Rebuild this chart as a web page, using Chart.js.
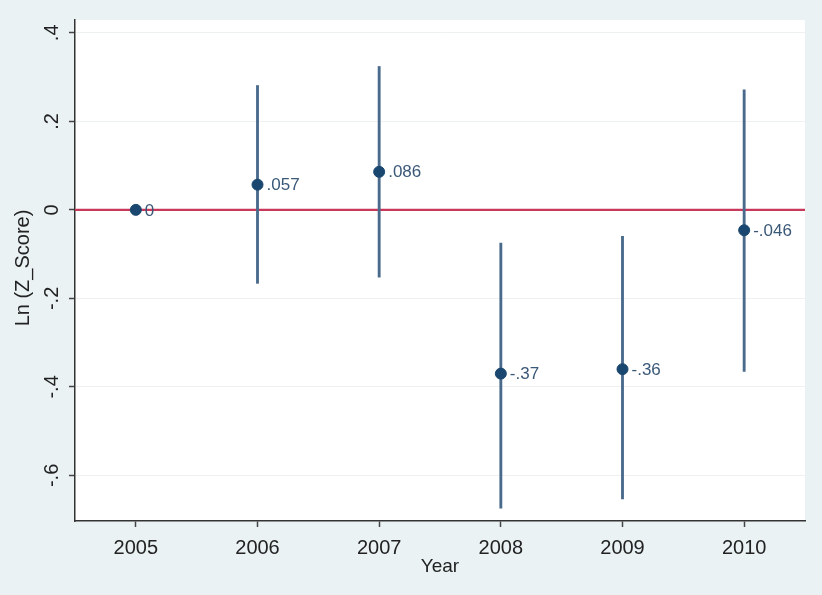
<!DOCTYPE html>
<html>
<head>
<meta charset="utf-8">
<script src="https://cdn.jsdelivr.net/npm/chart.js@4.4.1/dist/chart.umd.min.js"></script>
<style>
  html, body { margin: 0; padding: 0; background: #EAF2F3; }
  #wrap { width: 822px; height: 595px; }
</style>
</head>
<body>
<div id="wrap"><canvas id="myChart" width="822" height="595"></canvas></div>
<script>
// values
const years = [2005, 2006, 2007, 2008, 2009, 2010];
const coef = [0, 0.057, 0.086, -0.37, -0.36, -0.046];
const coefLabels = ['0', '.057', '.086', '-.37', '-.36', '-.046'];
const ciLow = [null, -0.166, -0.152, -0.674, -0.653, -0.365];
const ciHigh = [null, 0.281, 0.324, -0.075, -0.060, 0.271];
const yTicks = [-0.6, -0.4, -0.2, 0, 0.2, 0.4];
const yTickLabels = ['-.6', '-.4', '-.2', '0', '.2', '.4'];
const refLine = 0;

const xMin = 2004.5, xMax = 2010.5;
const yMin = -0.703, yMax = 0.429;
const fontFam = "'Liberation Sans', Arial, sans-serif";

const ciData = years.map((y, i) => ciLow[i] === null ? null : { x: y, y: [ciLow[i], ciHigh[i]] }).filter(d => d);
const pointData = years.map((y, i) => ({ x: y, y: coef[i] }));

// white plot region + our own tick labels / titles
const stataLook = {
    id: 'stataLook',
    beforeDraw(c) {
        const ctx = c.ctx, a = c.chartArea;
        ctx.save();
        ctx.fillStyle = '#EAF2F3';
        ctx.fillRect(0, 0, c.width, c.height);
        ctx.fillStyle = '#FFFFFF';
        ctx.fillRect(a.left, a.top, a.right - a.left, a.bottom - a.top);
        ctx.restore();
    },
    afterDraw(c) {
        const ctx = c.ctx, a = c.chartArea;
        const xs = c.scales.x, ys = c.scales.y;
        ctx.save();
        ctx.fillStyle = '#222';
        ctx.font = '20px ' + fontFam;
        // x tick labels
        ctx.textAlign = 'center';
        ctx.textBaseline = 'middle';
        years.forEach(v => ctx.fillText(String(v), xs.getPixelForValue(v), 548));
        // y tick labels, rotated
        yTicks.forEach((v, i) => {
            ctx.save();
            ctx.translate(52, ys.getPixelForValue(v));
            ctx.rotate(-Math.PI / 2);
            ctx.fillText(yTickLabels[i], 0, 0);
            ctx.restore();
        });
        // axis titles
        ctx.font = '19px ' + fontFam;
        ctx.fillText('Year', (a.left + a.right) / 2, 567);
        ctx.font = '20px ' + fontFam;
        ctx.save();
        ctx.translate(23, 268);
        ctx.rotate(-Math.PI / 2);
        ctx.fillText('Ln (Z_Score)', 0, 0);
        ctx.restore();
        // point labels
        const meta = c.getDatasetMeta(2);
        ctx.fillStyle = '#3A5878';
        ctx.font = '17px ' + fontFam;
        ctx.textAlign = 'left';
        meta.data.forEach((el, i) => ctx.fillText(coefLabels[i], el.x + 9, el.y + 1));
        ctx.restore();
    }
};

new Chart("myChart", {
    type: 'scatter',
    data: {
        datasets: [{
            type: 'bar',
            data: ciData,
            backgroundColor: '#4A6A8C',
            borderWidth: 0,
            barThickness: 2.2,
            order: 2
        }, {
            type: 'line',
            data: [{ x: xMin, y: refLine }, { x: xMax, y: refLine }],
            borderColor: '#C8385A',
            borderWidth: 2.2,
            pointRadius: 0,
            order: 3
        }, {
            type: 'scatter',
            data: pointData,
            backgroundColor: '#1A476F',
            borderColor: '#1A476F',
            pointRadius: 5.5,
            order: 0
        }]
    },
    options: {
        responsive: false,
        animation: false,
        devicePixelRatio: 1,
        layout: { padding: { left: 69, right: 17, top: 20, bottom: 68 } },
        plugins: { legend: { display: false }, tooltip: { enabled: false } },
        scales: {
            x: {
                type: 'linear',
                min: xMin, max: xMax,
                offset: false,
                afterBuildTicks: s => { s.ticks = years.map(v => ({ value: v })); },
                ticks: { display: false },
                grid: { drawOnChartArea: false, drawTicks: true, tickLength: 6, tickColor: '#444', tickWidth: 1.5, offset: false },
                border: { display: true, color: '#333', width: 1.5 }
            },
            y: {
                min: yMin, max: yMax,
                afterBuildTicks: s => { s.ticks = yTicks.map(v => ({ value: v })); },
                ticks: { display: false },
                grid: { color: '#EDF1F1', lineWidth: 1, drawTicks: true, tickLength: 6, tickColor: '#444', tickWidth: 1.5 },
                border: { display: true, color: '#333', width: 1.5 }
            }
        }
    },
    plugins: [stataLook]
});
</script>
</body>
</html>
